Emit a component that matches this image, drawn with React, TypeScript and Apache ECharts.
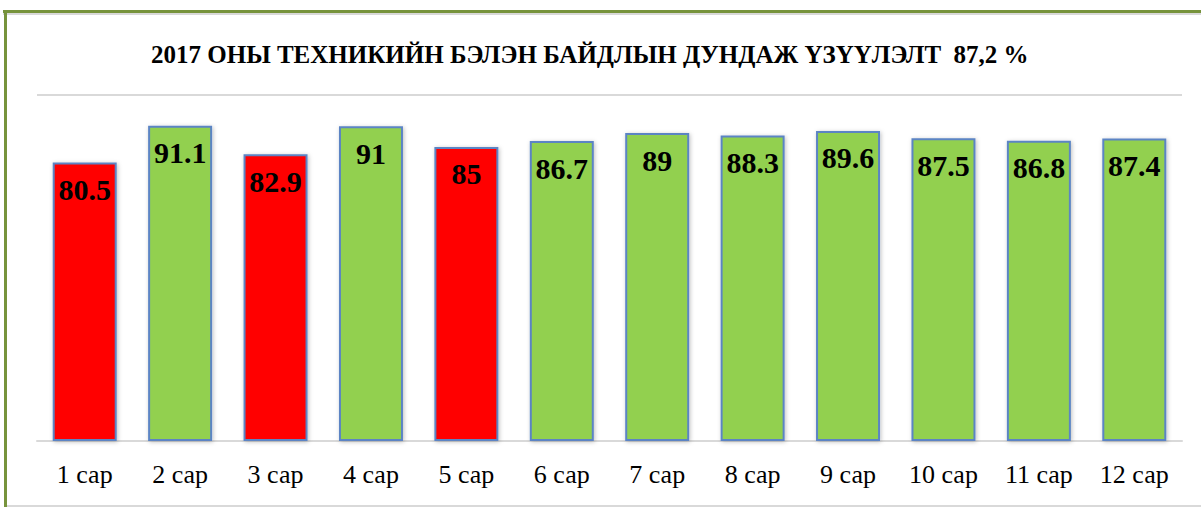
import React, { useEffect, useRef } from "react";
import * as echarts from "echarts";

const categories = ["1 сар", "2 сар", "3 сар", "4 сар", "5 сар", "6 сар", "7 сар", "8 сар", "9 сар", "10 сар", "11 сар", "12 сар"];
const values = [80.5, 91.1, 82.9, 91, 85, 86.7, 89, 88.3, 89.6, 87.5, 86.8, 87.4];
const barColors = ["#FF0000", "#92D050", "#FF0000", "#92D050", "#FF0000", "#92D050", "#92D050", "#92D050", "#92D050", "#92D050", "#92D050", "#92D050"];
const titleText = "2017 ОНЫ ТЕХНИКИЙН БЭЛЭН БАЙДЛЫН ДУНДАЖ ҮЗҮҮЛЭЛТ  87,2 %";

const serif = "Liberation Serif";

export default function App() {
  const ref = useRef<HTMLDivElement>(null);
  useEffect(() => {
    const chart = echarts.init(ref.current!, null, { renderer: "svg" });
    chart.setOption({
      animation: false,
      backgroundColor: "#ffffff",
      title: {
        text: titleText,
        left: 151,
        top: 42,
        padding: 0,
        textStyle: { fontFamily: serif, fontWeight: "bold", fontSize: 25, color: "#000" },
      },
      grid: { left: 37, right: 19, top: 95, bottom: 66 },
      xAxis: {
        type: "category",
        data: categories,
        axisLine: { show: true, lineStyle: { color: "#d9d9d9", width: 2 } },
        axisTick: { show: false },
        axisLabel: { fontFamily: serif, fontSize: 26, color: "#000", margin: 20 },
      },
      yAxis: {
        type: "value",
        min: 0,
        max: 100,
        interval: 100,
        axisLabel: { show: false },
        axisLine: { show: false },
        axisTick: { show: false },
        splitLine: { show: true, lineStyle: { color: "#d9d9d9", width: 2 } },
      },
      series: [
        {
          type: "bar",
          barWidth: 64,
          data: values.map((v, i) => ({
            value: v,
            itemStyle: {
              color: barColors[i],
              borderColor: "#5B84C4",
              borderWidth: 2,
              shadowColor: "rgba(0,0,0,0.25)",
              shadowBlur: 4,
              shadowOffsetX: 1,
              shadowOffsetY: 1,
            },
          })),
          label: {
            show: true,
            position: "insideTop",
            distance: 12,
            fontFamily: serif,
            fontWeight: "bold",
            fontSize: 30,
            color: "#000",
          },
        },
      ],
      graphic: [
        { type: "line", shape: { x1: 3, y1: 14, x2: 1201, y2: 14 }, style: { stroke: "#d9d9d9", lineWidth: 2 } },
        { type: "line", shape: { x1: 3, y1: 11.5, x2: 1201, y2: 11.5 }, style: { stroke: "#77933C", lineWidth: 3 } },
        { type: "line", shape: { x1: 5.5, y1: 10, x2: 5.5, y2: 507 }, style: { stroke: "#77933C", lineWidth: 3 } },
        { type: "line", shape: { x1: 7, y1: 506, x2: 1201, y2: 506 }, style: { stroke: "#d9d9d9", lineWidth: 2 } },
      ],
    });
    return () => chart.dispose();
  }, []);
  return <div ref={ref} style={{ position: "fixed", left: 0, top: 0, width: 1201, height: 507 }} />;
}
